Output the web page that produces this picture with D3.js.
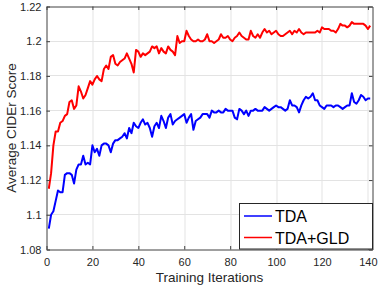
<!DOCTYPE html>
<html>
<head>
<meta charset="utf-8">
<script src="https://cdn.jsdelivr.net/npm/d3@7"></script>
<style>
  body { margin: 0; background: #fff; }
  svg { display: block; font-family: "Liberation Sans", Arial, sans-serif; }
</style>
</head>
<body>
<script>
var seriesNames = ["TDA", "TDA+GLD"];
var seriesColors = ["#0000ff", "#ff0000"];

var tda = [
  1.092, 1.100, 1.102, 1.108, 1.114, 1.113, 1.113, 1.123, 1.124, 1.124,
  1.123, 1.118, 1.126, 1.129, 1.129, 1.134, 1.129, 1.130, 1.129, 1.140,
  1.136, 1.138, 1.134, 1.140, 1.141, 1.141, 1.140, 1.136, 1.141, 1.143,
  1.143, 1.144, 1.145, 1.147, 1.144, 1.150, 1.147, 1.153, 1.151, 1.150,
  1.153, 1.155, 1.152, 1.153, 1.150, 1.145, 1.151, 1.153, 1.150, 1.157,
  1.154, 1.150, 1.156, 1.158, 1.152, 1.154, 1.155, 1.156, 1.157, 1.158,
  1.153, 1.156, 1.158, 1.149, 1.154, 1.155, 1.156, 1.158, 1.158, 1.158,
  1.156, 1.160, 1.159, 1.159, 1.160, 1.159, 1.159, 1.161, 1.160, 1.160,
  1.160, 1.156, 1.155, 1.161, 1.160, 1.158, 1.160, 1.157, 1.160, 1.160,
  1.161, 1.160, 1.160, 1.160, 1.162, 1.161, 1.160, 1.161, 1.162, 1.163,
  1.162, 1.162, 1.161, 1.160, 1.161, 1.166, 1.163, 1.163, 1.162, 1.159,
  1.163, 1.166, 1.168, 1.167, 1.168, 1.170, 1.166, 1.166, 1.163, 1.162,
  1.161, 1.163, 1.163, 1.163, 1.162, 1.163, 1.163, 1.162, 1.161, 1.162,
  1.163, 1.163, 1.170, 1.165, 1.164, 1.166, 1.169, 1.168, 1.166, 1.167,
  1.167
];

var tdaGld = [
  1.115, 1.124, 1.140, 1.148, 1.148, 1.153, 1.154, 1.157, 1.158, 1.165,
  1.166, 1.161, 1.163, 1.174, 1.171, 1.167, 1.169, 1.173, 1.177, 1.175,
  1.178, 1.180, 1.178, 1.177, 1.184, 1.186, 1.184, 1.191, 1.192, 1.187,
  1.186, 1.188, 1.189, 1.190, 1.193, 1.190, 1.187, 1.182, 1.195, 1.194,
  1.191, 1.193, 1.192, 1.193, 1.194, 1.197, 1.196, 1.197, 1.193, 1.196,
  1.194, 1.193, 1.197, 1.195, 1.194, 1.192, 1.203, 1.199, 1.200, 1.200,
  1.206, 1.203, 1.201, 1.200, 1.200, 1.201, 1.200, 1.200, 1.201, 1.204,
  1.200, 1.200, 1.199, 1.200, 1.201, 1.204, 1.202, 1.202, 1.203, 1.201,
  1.200, 1.202, 1.203, 1.205, 1.203, 1.202, 1.201, 1.201, 1.206, 1.203,
  1.202, 1.204, 1.202, 1.205, 1.207, 1.205, 1.206, 1.204, 1.205, 1.206,
  1.204, 1.203, 1.203, 1.204, 1.205, 1.206, 1.204, 1.206, 1.205, 1.207,
  1.205, 1.204, 1.205, 1.205, 1.205, 1.205, 1.205, 1.206, 1.205, 1.208,
  1.207, 1.207, 1.207, 1.206, 1.206, 1.205, 1.207, 1.210, 1.209, 1.209,
  1.208, 1.209, 1.211, 1.210, 1.210, 1.210, 1.210, 1.210, 1.209, 1.207,
  1.209
];

var xTicks = [0, 20, 40, 60, 80, 100, 120, 140];
var yTicks = [1.08, 1.1, 1.12, 1.14, 1.16, 1.18, 1.2, 1.22];

var width = 382, height = 287;
var margin = {top: 6.5, right: 9.5, bottom: 37.5, left: 46.5};
var w = width - margin.left - margin.right;
var h = height - margin.top - margin.bottom;

var svg = d3.select("body").append("svg")
    .attr("width", width)
    .attr("height", height);

var x = d3.scaleLinear().domain([0, 142]).range([0, w]);
var y = d3.scaleLinear().domain([1.08, 1.22]).range([h, 0]);

var g = svg.append("g")
    .attr("transform", "translate(" + margin.left + "," + margin.top + ")");

// grid
g.append("g").selectAll("line")
    .data(xTicks.slice(1))
    .enter().append("line")
    .attr("x1", function(d) { return Math.round(x(d)) + 0.5; })
    .attr("x2", function(d) { return Math.round(x(d)) + 0.5; })
    .attr("y1", 0).attr("y2", h)
    .attr("stroke", "#e3e3e3");

g.append("g").selectAll("line")
    .data(yTicks.slice(1, -1))
    .enter().append("line")
    .attr("y1", function(d) { return Math.round(y(d)); })
    .attr("y2", function(d) { return Math.round(y(d)); })
    .attr("x1", 0).attr("x2", w)
    .attr("stroke", "#e3e3e3");

// lines
var line = d3.line()
    .x(function(d, i) { return x(i + 1); })
    .y(function(d) { return y(d); });

[tda, tdaGld].forEach(function(s, k) {
  g.append("path")
      .datum(s)
      .attr("fill", "none")
      .attr("stroke", seriesColors[k])
      .attr("stroke-width", 2)
      .attr("stroke-linejoin", "round")
      .attr("d", line);
});

// axes
var tickLen = 3.5;
var xAxis = g.append("g")
    .attr("transform", "translate(0," + h + ")")
    .call(d3.axisBottom(x).tickValues(xTicks).tickSizeInner(-tickLen).tickSizeOuter(0).tickPadding(9));
var yAxis = g.append("g")
    .call(d3.axisLeft(y).tickValues(yTicks).tickFormat(d3.format("")).tickSizeInner(-tickLen).tickSizeOuter(0).tickPadding(5));

var xTop = g.append("g")
    .call(d3.axisTop(x).tickValues(xTicks).tickSizeInner(-tickLen).tickSizeOuter(0).tickFormat(""));
var yRight = g.append("g")
    .attr("transform", "translate(" + w + ",0)")
    .call(d3.axisRight(y).tickValues(yTicks).tickSizeInner(-tickLen).tickSizeOuter(0).tickFormat(""));

[xAxis, yAxis, xTop, yRight].forEach(function(a) {
  a.select(".domain").attr("stroke", "#404040");
  a.selectAll(".tick line").attr("stroke", "#404040");
  a.selectAll("text")
      .attr("fill", "#262626")
      .style("font-size", "11px")
      .style("font-family", "'Liberation Sans', Arial, sans-serif");
});

// axis labels
svg.append("text")
    .attr("x", margin.left + w / 2)
    .attr("y", 282)
    .attr("text-anchor", "middle")
    .attr("fill", "#262626")
    .style("font-size", "13.5px")
    .text("Training Iterations");

svg.append("text")
    .attr("transform", "translate(15.5," + (margin.top + h / 2) + ") rotate(-90)")
    .attr("text-anchor", "middle")
    .attr("fill", "#262626")
    .style("font-size", "13.5px")
    .text("Average CIDEr Score");

// legend
var lg = svg.append("g").attr("transform", "translate(239.5,203.5)");
lg.append("rect")
    .attr("width", 133)
    .attr("height", 45.5)
    .attr("fill", "#fff")
    .attr("stroke", "#262626");

seriesNames.forEach(function(name, k) {
  var yy = 12.5 + k * 21.5;
  lg.append("line")
      .attr("x1", 4.5).attr("x2", 32.5)
      .attr("y1", yy).attr("y2", yy)
      .attr("stroke", seriesColors[k])
      .attr("stroke-width", 1.5);
  lg.append("text")
      .attr("x", 35.5)
      .attr("y", yy + 6)
      .attr("fill", "#000")
      .style("font-size", "16px")
      .text(name);
});
</script>
</body>
</html>
